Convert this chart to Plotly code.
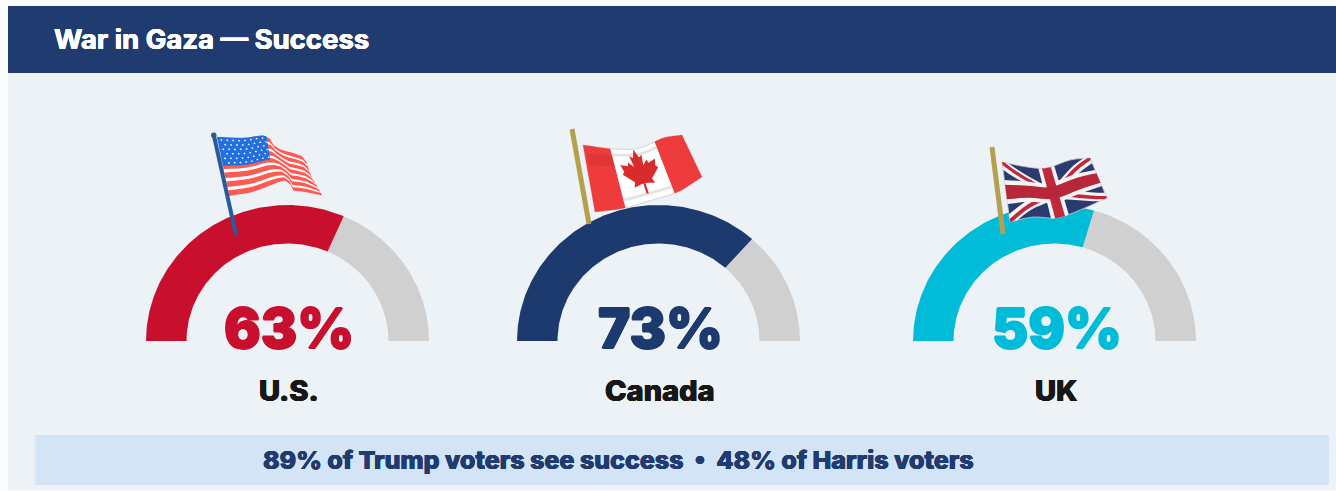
import numpy as np
import plotly.graph_objects as go

# ---- data ----
countries = ["U.S.", "Canada", "UK"]
success_pct = [63, 73, 59]
gauge_colors = ["#C8102E", "#1C3A6E", "#00BCD8"]
title_text = "War in Gaza — Success"
note_text = "89% of Trump voters see success\u00a0\u00a0•\u00a0\u00a048% of Harris voters"

# ---- layout constants (pixels) ----
W, H = 1336, 491
CX = [287.5, 658.5, 1054.5]
LABEL_X = [289, 660, 1057]
BASE_Y = 341
RX_OUT, RY_OUT, RX_IN, RY_IN = 141.5, 136, 101, 97.5
NAVY = "#1F3B70"
TRACK = "#D0D0D0"
FONT = "Inter"


def thick(color, px=0.6):
    return f"{px}px 0 0 {color}, -{px}px 0 0 {color}, 0 {px}px 0 {color}, 0 -{px}px 0 {color}"


def arc_band(cx, a0, a1):
    t = np.linspace(a0, a1, 160)
    xo = cx - RX_OUT * np.cos(t)
    yo = BASE_Y - RY_OUT * np.sin(t)
    xi = cx - RX_IN * np.cos(t[::-1])
    yi = BASE_Y - RY_IN * np.sin(t[::-1])
    return np.r_[xo, xi, xo[0]], np.r_[yo, yi, yo[0]]


fig = go.Figure()
for name, pct, col, cx in zip(countries, success_pct, gauge_colors, CX):
    split = np.pi * pct / 100
    for a0, a1, c in ((split, np.pi, TRACK), (0, split, col)):
        x, y = arc_band(cx, a0, a1)
        fig.add_trace(go.Scatter(x=x, y=y, mode="lines", fill="toself", fillcolor=c,
                                 line=dict(width=0, color=c), hoverinfo="skip",
                                 showlegend=False, name=name))

shapes = []


def rect(x0, y0, x1, y1, color):
    shapes.append(dict(type="rect", x0=x0, y0=y0, x1=x1, y1=y1, fillcolor=color,
                       line_width=0, layer="below", xref="x", yref="y"))


rect(0, 0, W, H, "#FAFBFD")
rect(8, 6, W, 490, "#EDF2F7")
rect(8, 6, W, 73, NAVY)
rect(34, 435, 36, 485, "#E4EDF6")
rect(36, 435, 1329, 485, "#D2E4F5")


# ---- flags: a wavy patch spanned by a top and bottom edge ----
def smooth(pts, n=200):
    p = np.array(pts, float)
    p = np.vstack([2 * p[0] - p[1], p, 2 * p[-1] - p[-2]])
    out = []
    for i in range(1, len(p) - 2):
        for s in np.linspace(0, 1, 24, endpoint=False):
            out.append(0.5 * ((2 * p[i]) + (-p[i - 1] + p[i + 1]) * s
                              + (2 * p[i - 1] - 5 * p[i] + 4 * p[i + 1] - p[i + 2]) * s ** 2
                              + (-p[i - 1] + 3 * p[i] - 3 * p[i + 1] + p[i + 2]) * s ** 3))
    out.append(p[-2])
    out = np.array(out)
    d = np.r_[0, np.cumsum(np.hypot(*np.diff(out, axis=0).T))]
    d /= d[-1]
    uu = np.linspace(0, 1, n)
    return uu, np.interp(uu, d, out[:, 0]), np.interp(uu, d, out[:, 1])


def patch(top, bottom):
    ut, xt, yt = smooth(top)
    ub, xb, yb = smooth(bottom)

    def f(u, v):
        u = np.clip(u, 0, 1)
        xa, ya = np.interp(u, ut, xt), np.interp(u, ut, yt)
        xc, yc = np.interp(u, ub, xb), np.interp(u, ub, yb)
        return xa + (xc - xa) * v, ya + (yc - ya) * v

    return f


def uv_path(f, poly, seg=14):
    pts = []
    poly = list(poly)
    for (u0, v0), (u1, v1) in zip(poly, poly[1:] + poly[:1]):
        for s in np.linspace(0, 1, seg, endpoint=False):
            x, y = f(u0 + (u1 - u0) * s, v0 + (v1 - v0) * s)
            pts.append(f"{x:.2f},{y:.2f}")
    return "M" + "L".join(pts) + "Z"


def add_poly(f, poly, color, opacity=1.0, seg=14, edge=None):
    shapes.append(dict(type="path", path=uv_path(f, poly, seg), fillcolor=color, opacity=opacity,
                       line=dict(width=0.8 if edge else 0, color=edge or color),
                       layer="above", xref="x", yref="y"))


def band(u0, u1, v0=0.0, v1=1.0):
    return [(u0, v0), (u1, v0), (u1, v1), (u0, v1)]


def pole(x0, y0, x1, y1, color, width):
    shapes.append(dict(type="line", x0=x0, y0=y0, x1=x1, y1=y1, layer="above", xref="x", yref="y",
                       line=dict(color=color, width=width)))


# U.S.
us = patch([(217, 137), (243, 138), (266, 136), (277, 148), (303, 157), (308, 170)],
           [(229, 195), (253, 191), (285, 180), (293, 190), (303, 191), (322, 195)])
add_poly(us, band(0, 1), "#FFFFFF")
for k in range(7):
    add_poly(us, band(0, 1, (2 * k - 0.05) / 13, (2 * k + 1.2) / 13), "#FF5A52")
add_poly(us, band(0, 0.46, 0, 0.5), "#2270E0")
stars = []
for r in range(6):
    for c in range(8):
        u = 0.035 + c * 0.055 + (0.027 if r % 2 else 0)
        v = 0.05 + r * 0.08
        stars.append([(u, v - 0.018), (u + 0.011, v), (u, v + 0.018), (u - 0.011, v)])
shapes.append(dict(type="path", path=" ".join(uv_path(us, s, 1) for s in stars), fillcolor="#FFFFFF",
                   line_width=0, layer="above", xref="x", yref="y"))
pole(214, 136, 236, 235, "#2A5A9A", 4)
shapes.append(dict(type="circle", x0=211, y0=132.5, x1=216.5, y1=138, fillcolor="#2A5A9A",
                   line_width=0, layer="above", xref="x", yref="y"))

# Canada
ca = patch([(583, 145), (615, 149), (640, 148), (663, 138), (682, 135)],
           [(595, 212), (625, 208), (652, 200), (678, 192), (702, 177)])
add_poly(ca, band(0, 1), "#FFFFFF", edge="#C9C9C9")
add_poly(ca, band(0, 0.27), "#EE3B3B")
add_poly(ca, band(0.72, 1), "#EE3B3B")
add_poly(ca, band(0.03, 0.27, 0.12, 0.3), "#C42A2E", 0.3)
add_poly(ca, band(0.27, 0.72, 0.08, 0.13), "#C8C8C8", 0.5)
add_poly(ca, band(0.27, 0.72, 0.84, 0.89), "#C8C8C8", 0.5)
half = [(0, 1), (.15, .65), (.3, .75), (.22, .3), (.45, .5), (.5, .35), (.85, .42), (.75, .15), (.85, .05),
        (.4, -.3), (.48, -.5), (.05, -.42), (.05, -.85)]
leaf = half + [(-a, b) for a, b in half[:0:-1]]
add_poly(ca, [(0.495 + a * 0.2, 0.47 - b * 0.46) for a, b in leaf], "#D92B2B", seg=3)
pole(572, 129, 589, 224, "#B5A04E", 5)

# UK
uk = patch([(1002, 162), (1027, 167), (1047, 168), (1070, 160), (1090, 158)],
           [(1010, 222), (1033, 217), (1057, 218), (1080, 210), (1107, 198)])
add_poly(uk, band(0, 1), "#2C3A72", edge="#C9C9C9")
d = 0.075
add_poly(uk, [(0, 0), (d, 0), (1, 1 - 0.13), (1, 1), (1 - d, 1), (0, 0.13)], "#F4F4F4")
add_poly(uk, [(1, 0), (1, 0.13), (d, 1), (0, 1), (0, 1 - 0.13), (1 - d, 0)], "#F4F4F4")
d2 = 0.03
add_poly(uk, [(0, 0), (d2, 0), (1, 1 - 0.05), (1, 1), (1 - d2, 1), (0, 0.05)], "#C0283C")
add_poly(uk, [(1, 0), (1, 0.05), (d2, 1), (0, 1), (0, 1 - 0.05), (1 - d2, 0)], "#C0283C")
add_poly(uk, band(0.41, 0.59), "#F4F4F4")
add_poly(uk, band(0, 1, 0.3, 0.7), "#F4F4F4")
add_poly(uk, band(0.45, 0.55), "#C0283C")
add_poly(uk, band(0, 1, 0.38, 0.62), "#B8263A")
pole(992, 147, 1003, 234, "#B5A04E", 5)

# ---- text ----
ann = [
    dict(x=52, y=38.5, text=title_text, xanchor="left",
         font=dict(size=27.5, color="#FFFFFF", weight=700, shadow=thick("#FFFFFF", 0.35))),
    dict(x=618, y=460, text=note_text,
         font=dict(size=25, color=NAVY, weight=800, shadow=thick(NAVY, 0.4))),
]
for name, pct, col, x in zip(countries, success_pct, gauge_colors, LABEL_X):
    ann.append(dict(x=x, y=328, text=f"{pct}%",
                    font=dict(size=54.5, color=col, weight=900, shadow=thick(col, 0.8))))
    ann.append(dict(x=x - 0.5, y=390, text=name,
                    font=dict(size=29, color="#171717", weight=800, shadow=thick("#171717", 0.4))))
for a in ann:
    a.update(xref="x", yref="y", showarrow=False, yanchor="middle")
    a.setdefault("xanchor", "center")
    a["font"]["family"] = FONT

fig.update_layout(
    width=W, height=H, margin=dict(l=0, r=0, t=0, b=0), paper_bgcolor="#FAFBFD", plot_bgcolor="rgba(0,0,0,0)",
    showlegend=False, shapes=shapes, annotations=ann,
    xaxis=dict(range=[0, W], visible=False, fixedrange=True),
    yaxis=dict(range=[H, 0], visible=False, fixedrange=True),
)
fig.write_html("out.html", config=dict(displayModeBar=False),
               post_script="document.body.style.margin='0';document.body.style.overflow='hidden';")
